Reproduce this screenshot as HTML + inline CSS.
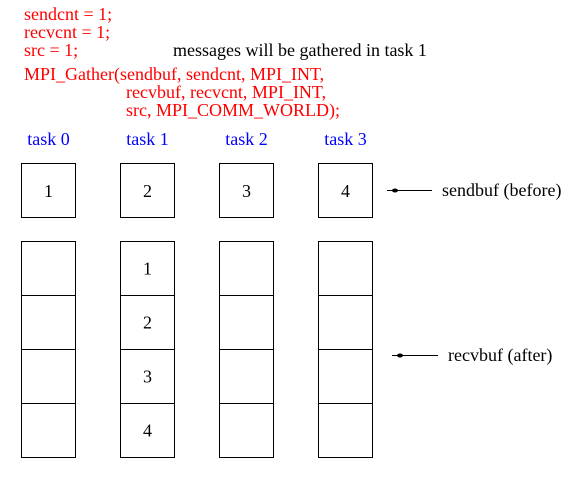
<!DOCTYPE html>
<html><head><meta charset="utf-8"><style>
html,body{margin:0;padding:0;background:#fff;}
svg{display:block;font-family:"Liberation Serif",serif;}
.red{fill:#f00;font-size:18px;}
.blue{fill:#00f;font-size:18px;}
.blk{fill:#000;font-size:18px;}
</style></head><body>
<svg width="587" height="483" viewBox="0 0 587 483">
<g>
<text class="red" x="24" y="20">sendcnt = 1;</text>
<text class="red" x="24" y="38">recvcnt = 1;</text>
<text class="red" x="24" y="56">src = 1;</text>
<text class="blk" x="173" y="56">messages will be gathered in task 1</text>
<text class="red" x="24" y="80">MPI_Gather(sendbuf, sendcnt, MPI_INT,</text>
<text class="red" x="126" y="98">recvbuf, recvcnt, MPI_INT,</text>
<text class="red" x="126" y="116">src, MPI_COMM_WORLD);</text>
</g>
<g id="tasks"></g>
<g>
<line x1="387" y1="190.5" x2="432" y2="190.5" stroke="#000" stroke-width="1"/>
<ellipse cx="395" cy="190.5" rx="3" ry="2" fill="#000"/>
<text class="blk" x="442" y="196">sendbuf (before)</text>
</g>
<g>
<line x1="392" y1="355.5" x2="438" y2="355.5" stroke="#000" stroke-width="1"/>
<ellipse cx="400" cy="355.5" rx="3" ry="2" fill="#000"/>
<text class="blk" x="448" y="361">recvbuf (after)</text>
</g>
</svg>
<script>
const taskLabels = ["task 0","task 1","task 2","task 3"];
const sendValues = ["1","2","3","4"];
const recvRoot = 1;
const recvValues = ["1","2","3","4"];
const NS = "http://www.w3.org/2000/svg";
const g = document.getElementById("tasks");
function mk(tag, attrs){const e=document.createElementNS(NS,tag);for(const k in attrs)e.setAttribute(k,attrs[k]);return e;}
taskLabels.forEach((lab,i)=>{
  const x = 21.5 + i*99;
  const t = mk("text",{class:"blue",x:x+27,y:145,"text-anchor":"middle"});
  t.textContent = lab;
  
  
  g.appendChild(t);
  const sb = mk("rect",{x:x,y:163.5,width:54,height:54,fill:"none",stroke:"#000","stroke-width":1});
  
  
  g.appendChild(sb);
  const sv = mk("text",{class:"blk",x:x+27,y:197,"text-anchor":"middle"});
  sv.textContent = sendValues[i];
  
  
  g.appendChild(sv);
  recvValues.forEach((v,j)=>{
    const y = 241.5 + j*54;
    const r = mk("rect",{x:x,y:y,width:54,height:54,fill:"none",stroke:"#000","stroke-width":1});
    
    
    g.appendChild(r);
    if(i===recvRoot){
      const rv = mk("text",{class:"blk",x:x+27,y:y+33,"text-anchor":"middle"});
      rv.textContent = v;
      
      
      g.appendChild(rv);
    }
  });
});
</script>
</body></html>
